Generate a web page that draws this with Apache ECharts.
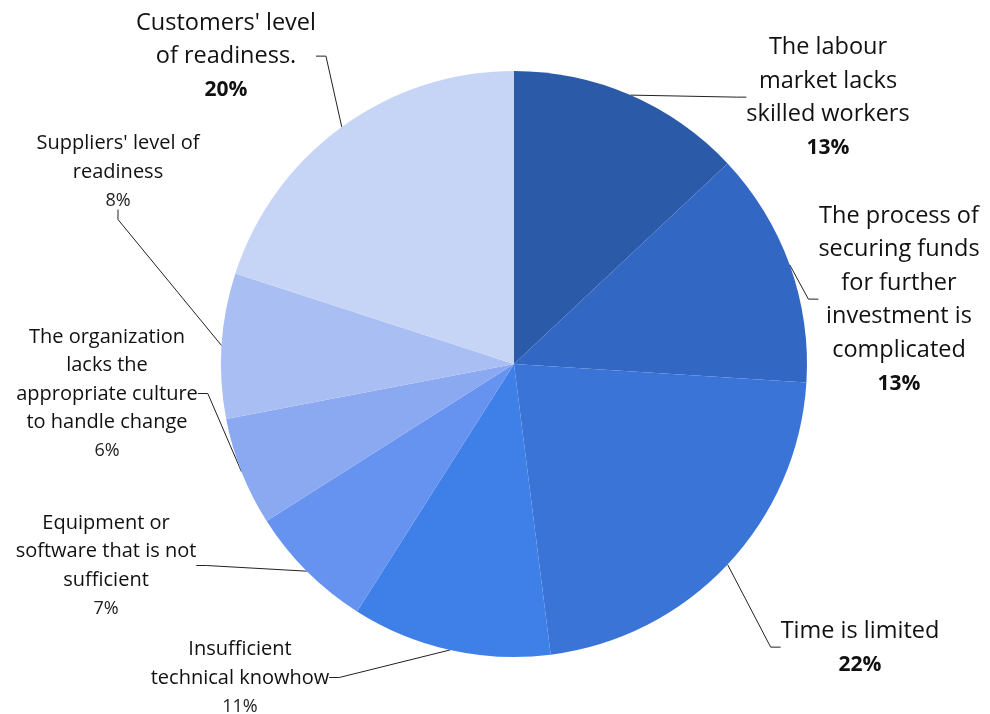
<!DOCTYPE html>
<html>
<head>
<meta charset="utf-8">
<script src="https://cdn.jsdelivr.net/npm/echarts@6/dist/echarts.min.js"></script>
<style>
  html, body { margin: 0; padding: 0; background: #ffffff; }
  #chart { width: 990px; height: 714px; }
</style>
</head>
<body>
<div id="chart"></div>
<script>
// Barriers to adoption: share of responses
const categories = [
  'The labour\nmarket lacks\nskilled workers',
  'The process of\nsecuring funds\nfor further\ninvestment is\ncomplicated',
  'Time is limited',
  'Insufficient\ntechnical knowhow',
  'Equipment or\nsoftware that is not\nsufficient',
  'The organization\nlacks the\nappropriate culture\nto handle change',
  "Suppliers' level of\nreadiness",
  "Customers' level\nof readiness."
];
const values = [13, 13, 22, 11, 7, 6, 8, 20];

// Slice colours, darkest first
const colors = ['#2b5aa8', '#3367c4', '#3a74d7', '#3f80e8', '#6693f0', '#8aa9f1', '#a9bff3', '#c6d4f6'];
// Large or small label text per slice
const labelStyle = ['big', 'big', 'big', 'small', 'small', 'small', 'small', 'big'];
// Label block centres
const labelPos = [
  [828, 98], [899, 300], [860, 648], [240, 678],
  [106, 566], [107, 394], [118, 172], [226, 57]
];

const font = '"Open Sans", "DejaVu Sans", sans-serif';

const data = categories.map((name, i) => {
  const big = labelStyle[i] === 'big';
  return {
    name: name,
    value: values[i],
    itemStyle: { color: colors[i] },
    label: {
      formatter: big ? '{n|{b}}\n{pb|{c}%}' : '{s|{b}}\n{ps|{c}%}'
    }
  };
});

const chart = echarts.init(document.getElementById('chart'), null, { renderer: 'canvas' });
chart.setOption({
  backgroundColor: '#ffffff',
  animation: false,
  series: [{
    type: 'pie',
    center: [514, 364],
    radius: 293,
    startAngle: 90,
    clockwise: true,
    avoidLabelOverlap: false,
    data: data,
    label: {
      show: true,
      position: 'outside',
      color: '#111',
      fontFamily: font,
      align: 'center',
      rich: {
        n: { fontSize: 23.5, lineHeight: 33.5, fontFamily: font, color: '#111', align: 'center' },
        pb: { fontSize: 21, lineHeight: 34, fontWeight: 'bold', fontFamily: font, color: '#111', align: 'center' },
        s: { fontSize: 20, lineHeight: 28.5, fontFamily: font, color: '#111', align: 'center' },
        ps: { fontSize: 18, lineHeight: 28.5, fontFamily: font, color: '#222', align: 'center' }
      }
    },
    labelLine: {
      show: true,
      length: 10,
      length2: 10,
      smooth: false,
      lineStyle: { color: '#222', width: 1 }
    },
    labelLayout: function (params) {
      const p = labelPos[params.dataIndex];
      return { x: p[0], y: p[1], align: 'center', verticalAlign: 'middle' };
    },
    itemStyle: { borderWidth: 0 },
    emphasis: { disabled: true }
  }]
});
</script>
</body>
</html>
